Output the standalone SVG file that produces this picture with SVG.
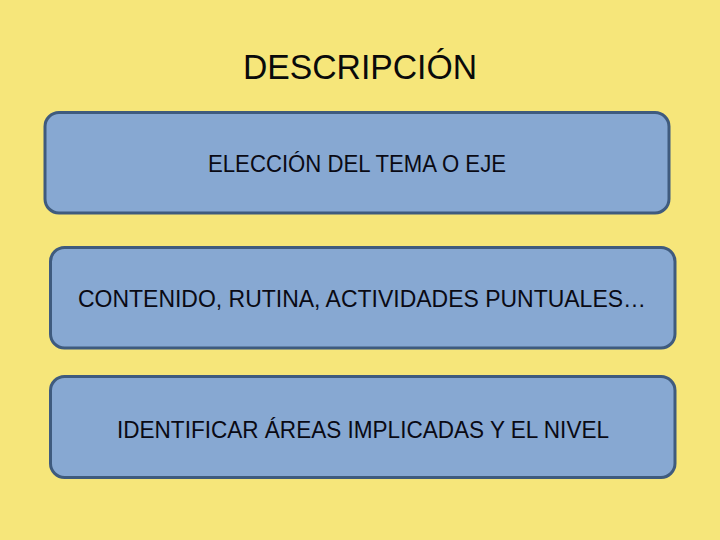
<svg xmlns="http://www.w3.org/2000/svg" width="720" height="540" viewBox="0 0 720 540">
<style>
.box{fill:#87A8D2;stroke:#3F5B7E;stroke-width:3}
.lbl{font-family:"Liberation Sans",Arial,sans-serif;font-size:24px;fill:#0A0A14}
.title{font-family:"Liberation Sans",Arial,sans-serif;font-size:35px;fill:#0A0A0A}
</style>
<rect x="0" y="0" width="720" height="540" fill="#F6E67A"/>
<text class="title" x="243" y="79" textLength="234" lengthAdjust="spacingAndGlyphs">DESCRIPCIÓN</text>
<g id="node1">
<rect class="box" x="45" y="112.5" width="624" height="100.5" rx="14"/>
<text class="lbl" x="208" y="172" textLength="298" lengthAdjust="spacingAndGlyphs">ELECCIÓN DEL TEMA O EJE</text>
</g>
<g id="node2">
<rect class="box" x="50.5" y="247.5" width="624.5" height="100.5" rx="14"/>
<text class="lbl" x="78" y="307" textLength="568" lengthAdjust="spacingAndGlyphs">CONTENIDO, RUTINA, ACTIVIDADES PUNTUALES…</text>
</g>
<g id="node3">
<rect class="box" x="50.5" y="376.5" width="624.5" height="101" rx="14"/>
<text class="lbl" x="117" y="438" textLength="492" lengthAdjust="spacingAndGlyphs">IDENTIFICAR ÁREAS IMPLICADAS Y EL NIVEL</text>
</g>
<g id="connectors"></g>
</svg>
